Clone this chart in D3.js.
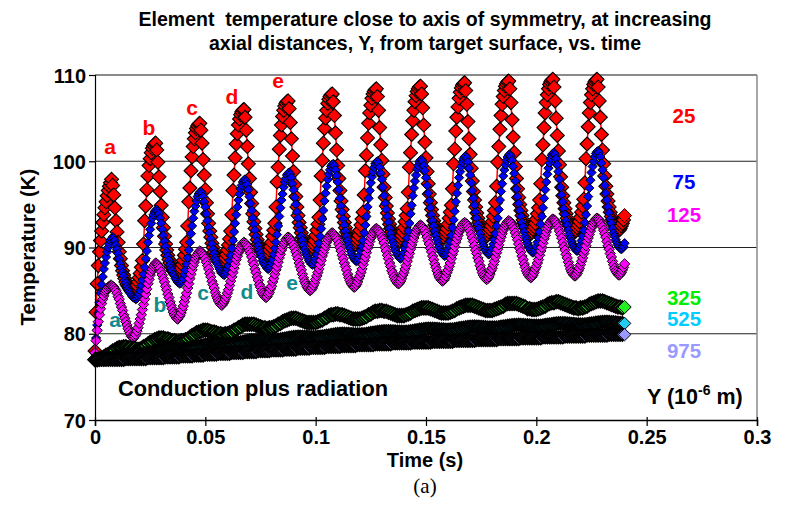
<!DOCTYPE html>
<html><head><meta charset="utf-8">
<script src="https://cdn.jsdelivr.net/npm/d3@7/dist/d3.min.js"></script>
<style>
body{margin:0;background:#fff}
text{font-family:"Liberation Sans",Arial,sans-serif;font-weight:bold}
</style>
</head><body>
<svg id="c" width="787" height="524"></svg>
<script>
// ---------------- DATA ----------------
// Y = 25 um (red), sampled every 0.5 ms, one line per 20 ms period
const y25 = [
78.0,82.5,85.8,87.9,89.5,90.8,91.9,92.9,93.8,94.6,95.3,96.0,96.6,97.1,97.5,97.9,97.2,96.1,94.6,93.1,91.8,90.6,89.5,88.7,87.9,87.3,86.8,86.4,86.0,85.7,85.5,85.3,85.1,84.9,84.9,84.8,85.0,85.3,85.6,86.0,
86.5,87.0,87.7,88.5,90.4,93.1,94.8,96.7,98.3,99.5,100.3,101.0,101.5,101.8,102.0,102.1,101.3,99.9,98.2,96.5,94.9,93.5,92.3,91.3,90.4,89.7,89.1,88.6,88.2,87.8,87.6,87.3,87.2,87.0,86.9,86.8,87.0,87.3,87.6,88.0,
88.5,89.1,89.8,90.6,92.5,95.3,96.9,98.9,100.5,101.7,102.6,103.3,103.8,104.1,104.3,104.4,103.6,102.1,100.2,98.4,96.7,95.2,93.9,92.8,91.9,91.2,90.5,90.0,89.5,89.1,88.8,88.6,88.4,88.2,88.1,88.0,88.2,88.5,88.8,89.2,
89.7,90.3,91.0,91.9,93.8,96.6,98.4,100.4,102.0,103.2,104.2,104.9,105.4,105.7,105.9,106.0,105.1,103.6,101.7,99.7,98.0,96.4,95.1,93.9,93.0,92.2,91.5,90.9,90.4,90.1,89.8,89.5,89.3,89.1,89.0,88.9,89.1,89.4,89.7,90.1,
90.6,91.3,92.0,92.8,94.7,97.6,99.3,101.4,103.0,104.2,105.2,105.9,106.4,106.7,106.9,107.0,106.1,104.5,102.6,100.6,98.8,97.3,95.9,94.7,93.7,92.9,92.3,91.7,91.2,90.8,90.5,90.2,90.0,89.8,89.7,89.6,89.8,90.1,90.4,90.8,
91.4,92.0,92.7,93.5,95.5,98.3,100.1,102.1,103.8,105.0,105.9,106.7,107.2,107.5,107.7,107.8,106.9,105.3,103.3,101.3,99.5,98.0,96.6,95.4,94.4,93.6,92.9,92.3,91.8,91.4,91.1,90.8,90.6,90.4,90.3,90.2,90.4,90.7,91.0,91.4,
92.0,92.6,93.3,94.1,96.1,98.9,100.7,102.7,104.4,105.6,106.5,107.3,107.8,108.1,108.3,108.4,107.5,105.9,103.9,101.9,100.1,98.5,97.0,95.8,94.8,94.0,93.3,92.7,92.2,91.8,91.5,91.2,91.0,90.8,90.7,90.6,90.8,91.1,91.4,91.8,
92.3,93.0,93.7,94.5,96.4,99.3,101.0,103.1,104.7,105.9,106.9,107.6,108.1,108.4,108.6,108.7,107.8,106.2,104.2,102.2,100.4,98.8,97.4,96.2,95.2,94.4,93.7,93.1,92.6,92.2,91.9,91.6,91.4,91.2,91.1,91.0,91.2,91.5,91.8,92.2,
92.7,93.4,94.1,94.9,96.8,99.7,101.4,103.5,105.1,106.3,107.3,108.0,108.5,108.8,109.0,109.1,108.2,106.6,104.6,102.6,100.8,99.2,97.7,96.5,95.5,94.7,94.0,93.4,92.9,92.5,92.2,91.9,91.7,91.5,91.4,91.3,91.5,91.8,92.1,92.5,
93.0,93.6,94.3,95.2,97.1,99.9,101.7,103.7,105.3,106.6,107.5,108.2,108.7,109.0,109.2,109.3,108.4,106.8,104.8,102.8,101.0,99.4,98.0,96.8,95.8,95.0,94.3,93.7,93.2,92.8,92.5,92.2,92.0,91.8,91.7,91.6,91.8,92.1,92.4,92.8,
93.3,93.9,94.6,95.5,97.4,100.2,101.9,103.9,105.6,106.8,107.7,108.4,108.9,109.2,109.4,109.5,108.6,107.0,105.0,103.0,101.2,99.6,98.2,97.0,96.0,95.2,94.5,93.9,93.4,93.0,92.7,92.4,92.2,92.0,91.9,91.8,92.0,92.3,92.6,93.0,
93.5,94.1,94.8,95.6,97.5,100.3,102.0,104.0,105.6,106.8,107.7,108.4,108.9,109.2,109.4,109.5,108.6,107.0,105.1,103.1,101.3,99.7,98.3,97.1,96.2,95.4,94.7,94.1,93.6,93.2,92.9,92.6,92.4,92.2,92.1,92.0,92.2,92.5,92.8,93.2,
93.7];
// Y = 75 um (blue)
const y75 = [
77.8,79.5,81.0,82.4,83.6,84.7,85.7,86.6,87.5,88.2,88.9,89.5,90.0,90.4,90.8,91.0,91.2,91.1,90.8,90.3,89.8,89.3,88.7,88.1,87.6,87.1,86.7,86.2,85.9,85.5,85.2,84.9,84.7,84.5,84.3,84.2,84.1,84.0,84.1,84.3,
84.6,85.0,85.6,86.2,86.9,87.7,88.7,89.6,90.6,91.4,92.1,92.8,93.4,93.8,94.1,94.3,94.4,94.2,93.9,93.4,92.8,92.1,91.4,90.7,90.1,89.5,89.0,88.5,88.0,87.6,87.3,86.9,86.7,86.4,86.2,86.0,85.9,85.8,85.9,86.1,
86.4,86.9,87.4,88.1,88.8,89.7,90.6,91.6,92.5,93.4,94.2,94.8,95.4,95.9,96.2,96.4,96.5,96.3,95.9,95.3,94.7,93.9,93.1,92.3,91.7,91.0,90.4,89.8,89.3,88.8,88.5,88.1,87.8,87.5,87.2,87.0,86.9,86.8,86.9,87.1,
87.5,87.9,88.5,89.1,89.9,90.8,91.8,92.8,93.8,94.7,95.5,96.2,96.8,97.2,97.6,97.8,97.9,97.7,97.3,96.7,95.9,95.1,94.3,93.4,92.7,92.0,91.3,90.7,90.2,89.7,89.3,88.9,88.5,88.2,88.0,87.8,87.6,87.5,87.6,87.8,
88.2,88.6,89.2,89.9,90.6,91.5,92.5,93.6,94.6,95.5,96.2,97.0,97.6,98.0,98.4,98.6,98.7,98.5,98.1,97.4,96.7,95.8,95.0,94.1,93.4,92.6,92.0,91.3,90.8,90.3,89.8,89.4,89.1,88.8,88.5,88.3,88.1,88.0,88.1,88.4,
88.7,89.2,89.8,90.5,91.3,92.2,93.3,94.3,95.4,96.3,97.1,97.9,98.5,99.0,99.4,99.6,99.7,99.5,99.0,98.3,97.6,96.7,95.7,94.8,94.1,93.3,92.6,91.9,91.3,90.8,90.3,89.9,89.5,89.2,88.9,88.7,88.5,88.4,88.5,88.7,
89.1,89.6,90.1,90.8,91.7,92.6,93.6,94.7,95.7,96.6,97.5,98.2,98.8,99.3,99.7,99.9,100.0,99.8,99.3,98.6,97.9,97.0,96.0,95.1,94.4,93.6,92.9,92.2,91.6,91.1,90.6,90.2,89.8,89.5,89.2,89.0,88.8,88.7,88.8,89.0,
89.4,89.9,90.4,91.1,91.9,92.8,93.9,94.9,96.0,96.9,97.7,98.4,99.1,99.5,99.9,100.1,100.2,100.0,99.5,98.9,98.1,97.2,96.3,95.4,94.6,93.8,93.1,92.5,91.9,91.4,90.9,90.5,90.1,89.8,89.5,89.3,89.1,89.0,89.1,89.3,
89.7,90.2,90.7,91.4,92.3,93.2,94.2,95.3,96.3,97.2,98.1,98.8,99.4,99.9,100.3,100.5,100.6,100.4,99.9,99.2,98.4,97.5,96.6,95.7,94.9,94.1,93.4,92.7,92.2,91.6,91.1,90.7,90.3,90.0,89.7,89.5,89.3,89.2,89.3,89.5,
89.9,90.4,90.9,91.6,92.5,93.4,94.4,95.5,96.5,97.4,98.3,99.0,99.6,100.1,100.5,100.7,100.8,100.6,100.1,99.4,98.6,97.7,96.8,95.9,95.1,94.3,93.6,92.9,92.4,91.8,91.3,90.9,90.5,90.2,89.9,89.7,89.5,89.4,89.5,89.7,
90.1,90.6,91.1,91.8,92.7,93.6,94.6,95.7,96.7,97.6,98.5,99.2,99.8,100.3,100.7,100.9,101.0,100.8,100.3,99.6,98.8,97.9,97.0,96.1,95.3,94.5,93.8,93.1,92.6,92.0,91.5,91.1,90.7,90.4,90.1,89.9,89.7,89.6,89.7,89.9,
90.3,90.8,91.3,92.0,92.9,93.8,94.8,95.9,96.9,97.8,98.7,99.4,100.0,100.5,100.9,101.1,101.2,101.0,100.5,99.8,99.0,98.1,97.2,96.3,95.5,94.7,94.0,93.3,92.8,92.2,91.7,91.3,90.9,90.6,90.3,90.1,89.9,89.8,89.9,90.1,
90.5];
// Y = 125 um (magenta)
const y125 = [
77.8,79.2,80.4,81.4,82.2,82.9,83.5,84.0,84.4,84.8,85.0,85.2,85.4,85.5,85.6,85.6,85.5,85.4,85.2,85.0,84.7,84.3,84.0,83.5,83.1,82.7,82.2,81.8,81.4,81.0,80.6,80.3,80.0,79.7,79.6,79.5,79.7,79.9,80.3,80.7,
81.2,81.7,82.2,82.8,83.4,84.0,84.6,85.2,85.8,86.3,86.8,87.2,87.5,87.8,88.0,88.2,88.1,88.0,87.8,87.6,87.2,86.8,86.4,86.0,85.5,85.1,84.6,84.2,83.7,83.3,82.9,82.5,82.2,82.0,81.8,81.7,81.9,82.1,82.4,82.8,
83.2,83.7,84.2,84.7,85.3,85.8,86.4,86.9,87.4,87.9,88.3,88.7,89.0,89.2,89.4,89.6,89.5,89.4,89.2,89.0,88.7,88.3,87.9,87.5,87.0,86.6,86.1,85.7,85.3,84.8,84.4,84.1,83.8,83.6,83.4,83.3,83.5,83.7,84.0,84.3,
84.7,85.1,85.6,86.1,86.6,87.1,87.6,88.1,88.6,89.0,89.4,89.7,90.0,90.3,90.5,90.6,90.5,90.4,90.2,90.0,89.6,89.3,88.9,88.4,88.0,87.5,87.1,86.6,86.2,85.7,85.4,85.0,84.7,84.5,84.3,84.2,84.3,84.6,84.8,85.2,
85.5,86.0,86.4,86.9,87.4,87.8,88.3,88.8,89.2,89.7,90.0,90.4,90.6,90.9,91.1,91.2,91.1,91.0,90.8,90.6,90.3,89.9,89.5,89.1,88.7,88.2,87.8,87.4,86.9,86.5,86.1,85.8,85.5,85.3,85.1,85.0,85.1,85.3,85.6,85.9,
86.3,86.7,87.1,87.5,88.0,88.5,89.0,89.4,89.8,90.2,90.6,90.9,91.2,91.4,91.6,91.7,91.6,91.5,91.3,91.1,90.8,90.4,90.0,89.6,89.1,88.7,88.2,87.8,87.4,86.9,86.5,86.2,85.9,85.7,85.5,85.4,85.5,85.7,86.0,86.4,
86.7,87.1,87.5,88.0,88.5,88.9,89.4,89.9,90.3,90.7,91.1,91.4,91.7,91.9,92.1,92.2,92.1,92.0,91.8,91.6,91.2,90.9,90.5,90.0,89.6,89.1,88.7,88.2,87.8,87.3,87.0,86.6,86.3,86.1,85.9,85.8,85.9,86.1,86.4,86.8,
87.1,87.5,87.9,88.4,88.9,89.3,89.8,90.3,90.7,91.1,91.5,91.8,92.1,92.3,92.5,92.6,92.5,92.4,92.2,92.0,91.6,91.2,90.8,90.4,89.9,89.5,89.0,88.6,88.1,87.7,87.3,86.9,86.6,86.4,86.2,86.1,86.2,86.4,86.7,87.1,
87.4,87.8,88.2,88.7,89.2,89.6,90.1,90.6,91.0,91.4,91.8,92.1,92.4,92.6,92.8,92.9,92.8,92.7,92.5,92.2,91.9,91.5,91.1,90.7,90.2,89.7,89.3,88.8,88.4,87.9,87.5,87.1,86.8,86.6,86.4,86.3,86.4,86.6,86.9,87.3,
87.6,88.0,88.4,88.9,89.4,89.8,90.3,90.8,91.2,91.6,92.0,92.3,92.6,92.8,93.0,93.1,93.0,92.9,92.7,92.4,92.1,91.7,91.3,90.9,90.4,89.9,89.5,89.0,88.6,88.1,87.7,87.3,87.0,86.8,86.6,86.5,86.6,86.8,87.1,87.5,
87.8,88.2,88.6,89.1,89.6,90.0,90.5,91.0,91.4,91.8,92.2,92.5,92.8,93.0,93.2,93.3,93.2,93.1,92.9,92.6,92.3,91.9,91.5,91.1,90.6,90.1,89.7,89.2,88.8,88.3,87.9,87.5,87.2,87.0,86.8,86.7,86.8,87.0,87.3,87.6,
88.0,88.4,88.8,89.3,89.7,90.2,90.7,91.1,91.5,91.9,92.3,92.6,92.9,93.1,93.3,93.4,93.3,93.2,93.0,92.7,92.4,92.0,91.6,91.2,90.7,90.2,89.8,89.3,88.9,88.4,88.0,87.6,87.3,87.1,86.9,86.8,86.9,87.1,87.4,87.7,
88.1];
// Y = 325 um (green), sampled every 1 ms
const y325 = [
77.0,77.0,77.1,77.2,77.3,77.5,77.6,77.8,78.0,78.1,78.3,78.4,78.4,78.5,78.5,78.4,78.4,78.3,78.3,78.2,
78.2,78.3,78.5,78.6,78.8,79.0,79.1,79.3,79.4,79.5,79.5,79.5,79.4,79.4,79.3,79.2,79.2,79.1,79.1,79.2,
79.2,79.3,79.4,79.6,79.8,79.9,80.1,80.2,80.3,80.4,80.4,80.4,80.3,80.2,80.2,80.1,80.0,80.0,79.9,80.0,
80.0,80.1,80.2,80.4,80.5,80.7,80.8,81.0,81.1,81.1,81.1,81.1,81.1,81.0,80.9,80.8,80.7,80.7,80.6,80.7,
80.7,80.8,80.9,81.1,81.2,81.4,81.5,81.6,81.7,81.8,81.8,81.8,81.7,81.6,81.5,81.4,81.3,81.3,81.3,81.3,
81.3,81.4,81.5,81.6,81.8,81.9,82.1,82.2,82.2,82.3,82.3,82.2,82.2,82.1,82.0,81.9,81.8,81.7,81.7,81.7,
81.7,81.8,81.9,82.0,82.2,82.3,82.5,82.6,82.6,82.7,82.7,82.6,82.6,82.5,82.4,82.3,82.2,82.1,82.1,82.1,
82.1,82.2,82.3,82.4,82.6,82.7,82.8,82.9,83.0,83.0,83.0,83.0,82.9,82.8,82.7,82.6,82.5,82.4,82.4,82.4,
82.4,82.5,82.6,82.7,82.9,83.0,83.1,83.2,83.3,83.3,83.3,83.3,83.2,83.1,83.0,82.9,82.8,82.7,82.7,82.7,
82.7,82.8,82.9,83.0,83.1,83.2,83.4,83.5,83.5,83.5,83.5,83.5,83.4,83.3,83.2,83.1,82.9,82.9,82.8,82.8,
82.8,82.9,83.0,83.1,83.2,83.4,83.5,83.6,83.6,83.7,83.7,83.6,83.5,83.4,83.3,83.2,83.1,83.0,83.0,82.9,
83.0,83.0,83.1,83.2,83.4,83.5,83.6,83.7,83.8,83.8,83.8,83.7,83.6,83.5,83.4,83.3,83.2,83.1,83.1,83.0,
83.1];
// Y = 525 um (cyan)
const y525 = [
77.00,77.00,77.00,77.02,77.05,77.08,77.12,77.16,77.20,77.25,77.30,77.34,77.38,77.42,77.46,77.50,77.54,77.58,77.62,77.66,
77.60,77.63,77.66,77.71,77.77,77.83,77.88,77.94,78.00,78.05,78.10,78.13,78.16,78.17,78.18,78.18,78.18,78.18,78.18,78.19,
78.20,78.23,78.26,78.31,78.37,78.43,78.48,78.54,78.60,78.65,78.70,78.73,78.75,78.76,78.76,78.76,78.75,78.75,78.74,78.75,
78.75,78.78,78.80,78.85,78.90,78.96,79.00,79.06,79.11,79.16,79.20,79.22,79.24,79.24,79.24,79.23,79.22,79.21,79.20,79.20,
79.20,79.22,79.24,79.28,79.33,79.38,79.42,79.47,79.52,79.56,79.60,79.62,79.64,79.64,79.64,79.63,79.62,79.61,79.60,79.60,
79.60,79.62,79.63,79.67,79.71,79.76,79.79,79.84,79.88,79.92,79.95,79.97,79.98,79.98,79.97,79.96,79.94,79.93,79.91,79.91,
79.90,79.92,79.93,79.97,80.01,80.06,80.09,80.14,80.18,80.22,80.25,80.27,80.28,80.28,80.27,80.26,80.24,80.23,80.21,80.21,
80.20,80.22,80.23,80.27,80.31,80.36,80.39,80.44,80.48,80.52,80.55,80.56,80.57,80.56,80.55,80.53,80.51,80.49,80.47,80.46,
80.45,80.47,80.48,80.52,80.56,80.61,80.64,80.69,80.73,80.77,80.80,80.81,80.82,80.81,80.80,80.78,80.76,80.74,80.72,80.71,
80.70,80.71,80.72,80.75,80.79,80.83,80.86,80.90,80.94,80.97,81.00,81.01,81.02,81.01,81.00,80.98,80.96,80.94,80.92,80.91,
80.90,80.91,80.92,80.95,80.99,81.03,81.06,81.10,81.14,81.17,81.20,81.21,81.21,81.20,81.18,81.16,81.13,81.11,81.08,81.07,
81.05,81.06,81.07,81.10,81.14,81.18,81.21,81.25,81.29,81.32,81.35,81.36,81.36,81.35,81.33,81.31,81.28,81.26,81.23,81.22,
81.20];
// Y = 975 um (lavender)
const y975 = [
77.0,77.0,77.0,77.0,77.0,77.0,77.0,77.0,77.0,77.0,77.0,77.0,77.0,77.0,77.1,77.1,77.1,77.1,77.1,77.1,
77.1,77.1,77.1,77.1,77.2,77.2,77.2,77.2,77.2,77.2,77.2,77.2,77.3,77.3,77.3,77.3,77.3,77.3,77.3,77.4,
77.4,77.4,77.4,77.4,77.4,77.5,77.5,77.5,77.5,77.5,77.6,77.6,77.6,77.6,77.6,77.6,77.7,77.7,77.7,77.7,
77.7,77.7,77.8,77.8,77.8,77.8,77.8,77.8,77.9,77.9,77.9,77.9,77.9,77.9,78.0,78.0,78.0,78.0,78.0,78.0,
78.1,78.1,78.1,78.1,78.1,78.1,78.2,78.2,78.2,78.2,78.2,78.2,78.3,78.3,78.3,78.3,78.3,78.3,78.4,78.4,
78.4,78.4,78.4,78.4,78.4,78.5,78.5,78.5,78.5,78.5,78.5,78.5,78.6,78.6,78.6,78.6,78.6,78.6,78.6,78.7,
78.7,78.7,78.7,78.7,78.7,78.7,78.7,78.8,78.8,78.8,78.8,78.8,78.8,78.8,78.8,78.9,78.9,78.9,78.9,78.9,
78.9,78.9,78.9,78.9,79.0,79.0,79.0,79.0,79.0,79.0,79.0,79.0,79.0,79.1,79.1,79.1,79.1,79.1,79.1,79.1,
79.1,79.1,79.1,79.2,79.2,79.2,79.2,79.2,79.2,79.2,79.2,79.2,79.2,79.3,79.3,79.3,79.3,79.3,79.3,79.3,
79.3,79.3,79.3,79.4,79.4,79.4,79.4,79.4,79.4,79.4,79.4,79.4,79.4,79.5,79.5,79.5,79.5,79.5,79.5,79.5,
79.5,79.5,79.5,79.6,79.6,79.6,79.6,79.6,79.6,79.6,79.6,79.6,79.6,79.7,79.7,79.7,79.7,79.7,79.7,79.7,
79.7,79.7,79.7,79.8,79.8,79.8,79.8,79.8,79.8,79.8,79.8,79.8,79.8,79.9,79.9,79.9,79.9,79.9,79.9,79.9,
79.9];
const seriesNames = ["25","75","125","325","525","975"];
const sampleSteps = [0.0005,0.0005,0.0005,0.001,0.001,0.001];
const xTicks = [0,0.05,0.1,0.15,0.2,0.25,0.3];
const xTickLabels = ["0","0.05","0.1","0.15","0.2","0.25","0.3"];
const yTicks = [70,80,90,100,110];
const pulseLetters = ["a","b","c","d","e"];

// ---------------- CHART ----------------
const svg = d3.select("#c");
const W = 787, H = 524;
const P = {l:95, r:757, t:75, b:420};
const x = d3.scaleLinear().domain([0,0.3]).range([P.l,P.r]);
const y = d3.scaleLinear().domain([70,110]).range([P.b,P.t]);

svg.append("rect").attr("width",W).attr("height",H).attr("fill","#fff");

// gridlines
svg.append("g").selectAll("line").data(yTicks.filter(v=>v>70 && v<110)).join("line")
  .attr("x1",P.l).attr("x2",P.r).attr("y1",d=>y(d)).attr("y2",d=>y(d))
  .attr("stroke","#222").attr("stroke-width",1.2);
// top & right frame
svg.append("line").attr("x1",P.l).attr("x2",P.r).attr("y1",y(110)).attr("y2",y(110))
  .attr("stroke","#8a8a8a").attr("stroke-width",2);
svg.append("line").attr("x1",P.r).attr("x2",P.r).attr("y1",P.t).attr("y2",P.b)
  .attr("stroke","#8a8a8a").attr("stroke-width",1.5);

const styles = [
  {fill:"#ff0000", line:"#ff0000", r:7,   sw:1.1},
  {fill:"#0000ff", line:"#5555ff", r:4.6, sw:1},
  {fill:"#ff00ff", line:"#ff00ff", r:5.2, sw:1},
  {fill:"#22ee22", line:"#000000", r:6.6, sw:2},
  {fill:"#22ccee", line:"#000000", r:6.2, sw:2},
  {fill:"#9999ff", line:"#000000", r:6.2, sw:2}
];
const allValues = [y25,y75,y125,y325,y525,y975];
const diamond = r => `M0,${-r}L${r},0L0,${r}L${-r},0Z`;
const lineGen = d3.line().x(d=>x(d.t)).y(d=>y(d.v));

allValues.forEach((vals,si)=>{
  const dt = sampleSteps[si];
  const pts = vals.map((v,i)=>({t:i*dt, v:v}));
  const st = styles[si];
  const last = pts.length - 1;
  const g = svg.append("g").attr("class","series s"+seriesNames[si]);
  g.append("path").datum(pts).attr("d",lineGen).attr("fill","none")
    .attr("stroke",st.line).attr("stroke-width",1.5);
  g.selectAll("path.m").data(pts).join("path").attr("class","m")
    .attr("d",diamond(st.r))
    .attr("transform",d=>`translate(${x(d.t)},${y(d.v)})`)
    .attr("fill",st.fill).attr("stroke","#000")
    .attr("stroke-width",(d,i)=> i===last ? 1 : st.sw);
});

// axes
const yAxis = d3.axisLeft(y).tickValues(yTicks).tickSize(6).tickFormat(d3.format("d"));
const gy = svg.append("g").attr("transform",`translate(${P.l},0)`).call(yAxis);
gy.select(".domain").attr("stroke","#000").attr("stroke-width",1.2);
gy.selectAll(".tick line").attr("stroke","#000").attr("stroke-width",1.2);
gy.selectAll(".tick text").attr("x",-9).attr("dy","0.36em")
  .attr("font-size",20).attr("font-weight","bold").attr("fill","#000")
  .attr("font-family","Liberation Sans, Arial, sans-serif");

const xAxis = d3.axisBottom(x).tickValues(xTicks).tickSize(6)
  .tickFormat((d,i)=>xTickLabels[i]);
const gx = svg.append("g").attr("transform",`translate(0,${P.b})`).call(xAxis);
gx.select(".domain").attr("stroke","#000").attr("stroke-width",1.5);
gx.selectAll(".tick line").attr("stroke","#000").attr("stroke-width",1.2).attr("y1",-3);
gx.selectAll(".tick text").attr("y",10).attr("dy","0.71em")
  .attr("font-size",20).attr("font-weight","bold").attr("fill","#000")
  .attr("font-family","Liberation Sans, Arial, sans-serif");

// titles
const txt = (s,xx,yy,opt={}) => svg.append("text").attr("x",xx).attr("y",yy)
  .attr("text-anchor",opt.anchor||"middle").attr("font-size",opt.size||19)
  .attr("fill",opt.color||"#000").text(s);

txt("Element\u00a0\u00a0temperature close to axis of symmetry, at increasing",425,26,{size:19.5});
txt("axial distances, Y, from target surface, vs. time",425,50,{size:19.5});
txt("Time (s)",425,467,{size:20});
svg.append("text").attr("x",425).attr("y",493).attr("text-anchor","middle")
  .attr("font-size",21).style("font-family","'Liberation Serif','Times New Roman',serif")
  .style("font-weight","normal").text("(a)");
svg.append("text").attr("transform","translate(35,247) rotate(-90)")
  .attr("text-anchor","middle").attr("font-size",20.5).text("Temperature (K)");
txt("Conduction plus radiation",118,396,{anchor:"start",size:21.8});

// series labels on right
const labelColors = ["#ff0000","#0000ff","#ff00ff","#00ee00","#00ccff","#9999ff"];
const labelY = [123,189,222,305,326,358];
seriesNames.forEach((n,i)=>txt(n,684,labelY[i],{size:20.5,color:labelColors[i]}));
const yl = svg.append("text").attr("x",647).attr("y",404).attr("font-size",21.5).attr("fill","#000");
yl.append("tspan").text("Y (10");
yl.append("tspan").attr("font-size",14).attr("dy",-9).text("-6");
yl.append("tspan").attr("dy",9).text(" m)");

// pulse letters
const redPos = [[110,154],[149,135],[192,115],[232,104],[278,88]];
const tealPos = [[115,327],[160,312],[203,300],[247,299],[292,290]];
pulseLetters.forEach((c,i)=>{
  txt(c,redPos[i][0],redPos[i][1],{size:21,color:"#ff0000"});
  txt(c,tealPos[i][0],tealPos[i][1],{size:21,color:"#138a8a"});
});
</script>
</body></html>
